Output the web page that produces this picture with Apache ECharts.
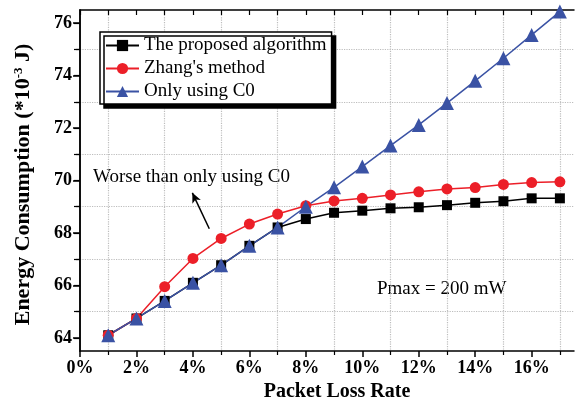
<!DOCTYPE html>
<html>
<head>
<meta charset="utf-8">
<script src="https://cdn.jsdelivr.net/npm/echarts@6/dist/echarts.min.js"></script>
<style>
html, body { margin: 0; padding: 0; background: #fff; }
#main { width: 582px; height: 405px; }
</style>
</head>
<body>
<div id="main"></div>
<script>
// packet loss rate in %
var lossRate = [1, 2, 3, 4, 5, 6, 7, 8, 9, 10, 11, 12, 13, 14, 15, 16, 17];
var proposed = [64.1, 64.74, 65.41, 66.1, 66.77, 67.51, 68.21, 68.53, 68.77, 68.85, 68.94, 68.98, 69.06, 69.15, 69.21, 69.32, 69.32];
var zhang = [64.1, 64.74, 65.95, 67.03, 67.79, 68.34, 68.72, 69.04, 69.22, 69.32, 69.45, 69.57, 69.68, 69.73, 69.85, 69.92, 69.95];
var onlyC0 = [64.1, 64.74, 65.41, 66.1, 66.77, 67.51, 68.21, 69.0, 69.74, 70.53, 71.33, 72.12, 72.95, 73.8, 74.66, 75.55, 76.44];

var xMajor = [0, 2, 4, 6, 8, 10, 12, 14, 16];
var xMinor = [1, 3, 5, 7, 9, 11, 13, 15, 17];
var xAll = [0, 1, 2, 3, 4, 5, 6, 7, 8, 9, 10, 11, 12, 13, 14, 15, 16, 17];
var yMajor = [64, 66, 68, 70, 72, 74, 76];
var yMinor = [65, 67, 69, 71, 73, 75];
var yAll = [64, 65, 66, 67, 68, 69, 70, 71, 72, 73, 74, 75, 76];

var serif = 'Liberation Serif';
var axisColor = '#000';

function pairs(vals) {
    return lossRate.map(function (x, i) { return [x, vals[i]]; });
}

var xRange = { min: 0, max: 17.5 };
var yRange = { min: 63.5, max: 76.5 };

var option = {
    animation: false,
    backgroundColor: '#fff',
    grid: {
        left: 80,
        right: 8,
        top: 10,
        bottom: 54,
        containLabel: false,
        outerBoundsMode: 'none'
    },
    legend: {
        data: ['The proposed algorithm', "Zhang's method", 'Only using C0'],
        orient: 'vertical',
        left: 100,
        top: 32,
        itemWidth: 33,
        itemHeight: 14,
        itemGap: 4,
        padding: [4, 5, 3, 5],
        backgroundColor: '#fff',
        borderColor: '#000',
        borderWidth: 1.5,
        borderRadius: 0,
        shadowColor: '#000',
        shadowBlur: 0,
        shadowOffsetX: 4,
        shadowOffsetY: 4,
        textStyle: {
            fontFamily: serif,
            fontSize: 19,
            color: '#000'
        }
    },
    xAxis: [
        {
            type: 'value', min: xRange.min, max: xRange.max, position: 'bottom',
            axisLine: { show: true, lineStyle: { color: axisColor, width: 1.5 } },
            axisTick: { show: true, customValues: xMajor, length: 6, lineStyle: { color: axisColor, width: 1.5 } },
            axisLabel: {
                customValues: xMajor, formatter: '{value}%', margin: 8,
                fontFamily: serif, fontWeight: 'bold', fontSize: 18, color: '#000'
            },
            splitLine: { show: false },
            name: 'Packet Loss Rate',
            nameLocation: 'middle',
            nameGap: 31,
            nameTextStyle: {
                fontFamily: serif, fontWeight: 'bold', fontSize: 20, color: '#000',
                padding: [0, 0, 0, 20]
            }
        },
        {
            // minor ticks + dotted grid at odd percents
            type: 'value', min: xRange.min, max: xRange.max, position: 'bottom',
            axisLine: { show: false },
            axisTick: { show: true, customValues: xMinor, length: 4, lineStyle: { color: axisColor, width: 1.2 } },
            axisLabel: { show: false },
            splitLine: { show: true, lineStyle: { color: '#bdbdbd', type: 'dotted', width: 1.2 } }
        },
        {
            type: 'value', min: xRange.min, max: xRange.max, position: 'top',
            axisLine: { show: true, lineStyle: { color: axisColor, width: 1.5 } },
            axisTick: { show: true, inside: true, customValues: xAll, length: 5, lineStyle: { color: axisColor, width: 1.2 } },
            axisLabel: { show: false },
            splitLine: { show: false }
        }
    ],
    yAxis: [
        {
            type: 'value', min: yRange.min, max: yRange.max, position: 'left',
            axisLine: { show: true, lineStyle: { color: axisColor, width: 1.5 } },
            axisTick: { show: true, customValues: yMajor, length: 7, lineStyle: { color: axisColor, width: 1.5 } },
            axisLabel: {
                customValues: yMajor, margin: 8,
                fontFamily: serif, fontWeight: 'bold', fontSize: 18, color: '#000'
            },
            splitLine: { show: false },
            name: '{b|Energy Consumption (*10}{s|-3}{b| J)}',
            nameLocation: 'middle',
            nameGap: 45,
            nameTextStyle: {
                padding: [0, 8, 0, 0],
                rich: {
                    b: { fontFamily: serif, fontWeight: 'bold', fontSize: 22, color: '#000' },
                    s: { fontFamily: serif, fontWeight: 'bold', fontSize: 13, color: '#000', padding: [0, 0, 10, 0] }
                }
            }
        },
        {
            type: 'value', min: yRange.min, max: yRange.max, position: 'left',
            axisLine: { show: false },
            axisTick: { show: true, customValues: yMinor, length: 4, lineStyle: { color: axisColor, width: 1.2 } },
            axisLabel: { show: false },
            splitLine: { show: true, lineStyle: { color: '#bdbdbd', type: 'dotted', width: 1.2 } }
        },
        {
            type: 'value', min: yRange.min, max: yRange.max, position: 'right',
            axisLine: { show: true, lineStyle: { color: axisColor, width: 1.5 } },
            axisTick: { show: true, inside: true, customValues: yAll, length: 6, lineStyle: { color: axisColor, width: 1.2 } },
            axisLabel: { show: false },
            splitLine: { show: false }
        }
    ],
    graphic: [
        {
            type: 'text', left: 93, top: 168,
            style: { text: 'Worse than only using C0', font: '19px "Liberation Serif"', fill: '#000' }
        },
        {
            type: 'text', left: 377, top: 280,
            style: { text: 'Pmax = 200 mW', font: '19px "Liberation Serif"', fill: '#000' }
        }
    ],
    series: [
        {
            name: 'The proposed algorithm',
            type: 'line',
            data: pairs(proposed),
            symbol: 'rect',
            symbolSize: 10,
            color: '#000',
            lineStyle: { width: 1.5, color: '#000' },
            clip: false
        },
        {
            name: "Zhang's method",
            type: 'line',
            data: pairs(zhang),
            symbol: 'circle',
            symbolSize: 11,
            color: '#ec1f28',
            lineStyle: { width: 1.5, color: '#ec1f28' },
            clip: false,
            markLine: {
                silent: true,
                symbol: ['none', 'arrow'],
                symbolSize: [7, 10],
                label: { show: false },
                lineStyle: { color: '#000', width: 1.5, type: 'solid' },
                data: [[{ coord: [4.58, 68.16] }, { coord: [3.98, 69.53] }]]
            }
        },
        {
            name: 'Only using C0',
            type: 'line',
            data: pairs(onlyC0),
            symbol: 'triangle',
            symbolSize: 14,
            color: '#3a52a4',
            lineStyle: { width: 1.5, color: '#3a52a4' },
            clip: false
        }
    ]
};

var chart = echarts.init(document.getElementById('main'));
chart.setOption(option);
</script>
</body>
</html>
